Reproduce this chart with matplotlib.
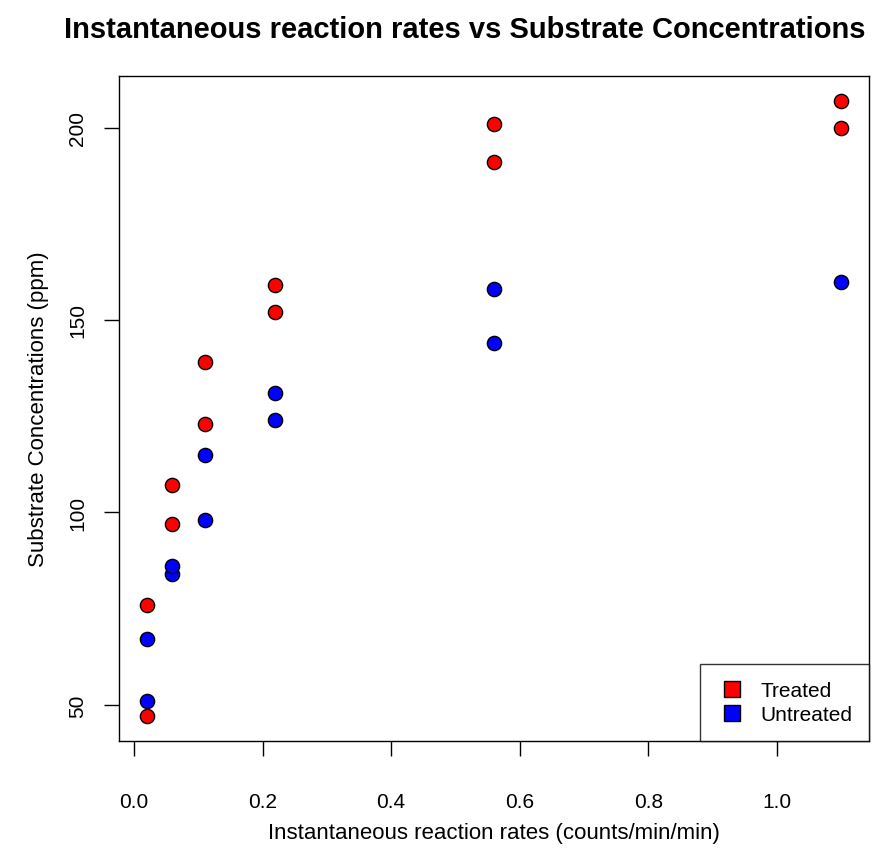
import numpy as np
import matplotlib
matplotlib.use("Agg")
import matplotlib.pyplot as plt
from matplotlib.lines import Line2D

plt.rcParams['font.family'] = ['Liberation Sans', 'DejaVu Sans']

# Puromycin data
treated_conc = [0.02, 0.02, 0.06, 0.06, 0.11, 0.11, 0.22, 0.22, 0.56, 0.56, 1.10, 1.10]
treated_rate = [76, 47, 97, 107, 123, 139, 159, 152, 191, 201, 207, 200]
untreated_conc = [0.02, 0.02, 0.06, 0.06, 0.11, 0.11, 0.22, 0.22, 0.56, 0.56, 1.10]
untreated_rate = [67, 51, 84, 86, 98, 115, 131, 124, 144, 158, 160]

xticks = [0.0, 0.2, 0.4, 0.6, 0.8, 1.0]
yticks = [50, 100, 150, 200]

fig = plt.figure(figsize=(8.85, 8.54), dpi=100)
ax = fig.add_axes([119/885, 1 - 742/854, 750/885, 665/854])

ax.scatter(treated_conc, treated_rate, s=105, c='#FF0000', edgecolors='black', linewidths=1, zorder=3)
ax.scatter(untreated_conc, untreated_rate, s=105, c='#0000FF', edgecolors='black', linewidths=1, zorder=3)

# R-style 4% axis extension
allx = treated_conc + untreated_conc
ally = treated_rate + untreated_rate
dx = (max(allx) - min(allx)) * 0.04
dy = (max(ally) - min(ally)) * 0.04
ax.set_xlim(min(allx) - dx, max(allx) + dx)
ax.set_ylim(min(ally) - dy, max(ally) + dy)

ax.set_xticks(xticks)
ax.set_xticklabels(['0.0', '0.2', '0.4', '0.6', '0.8', '1.0'])
ax.set_yticks(yticks)
ax.set_yticklabels([str(v) for v in yticks], rotation=90, va='center')
ax.tick_params(length=11, width=1, labelsize=15, pad=26, color='black')
ax.tick_params(axis='y', pad=12)
for sp in ax.spines.values():
    sp.set_linewidth(1)

ax.set_xlabel('Instantaneous reaction rates (counts/min/min)', fontsize=16, labelpad=8)
ax.set_ylabel('Substrate Concentrations (ppm)', fontsize=16, labelpad=14)
fig.text(0.525, 1 - 30/854, 'Instantaneous reaction rates vs Substrate Concentrations',
         ha='center', va='center', fontsize=21, fontweight='bold')

handles = [Line2D([], [], marker='s', linestyle='none', markersize=12,
                  markerfacecolor='#FF0000', markeredgecolor='black'),
           Line2D([], [], marker='s', linestyle='none', markersize=12,
                  markerfacecolor='#0000FF', markeredgecolor='black')]
leg = ax.legend(handles, ['Treated', 'Untreated'], loc='lower right', fontsize=15,
                frameon=True, fancybox=False, borderaxespad=0, handletextpad=0.6,
                borderpad=0.8, labelspacing=0.25, handlelength=1.5)
leg.get_frame().set_edgecolor('black')
leg.get_frame().set_linewidth(1)

fig.savefig('out.png', dpi=100)
